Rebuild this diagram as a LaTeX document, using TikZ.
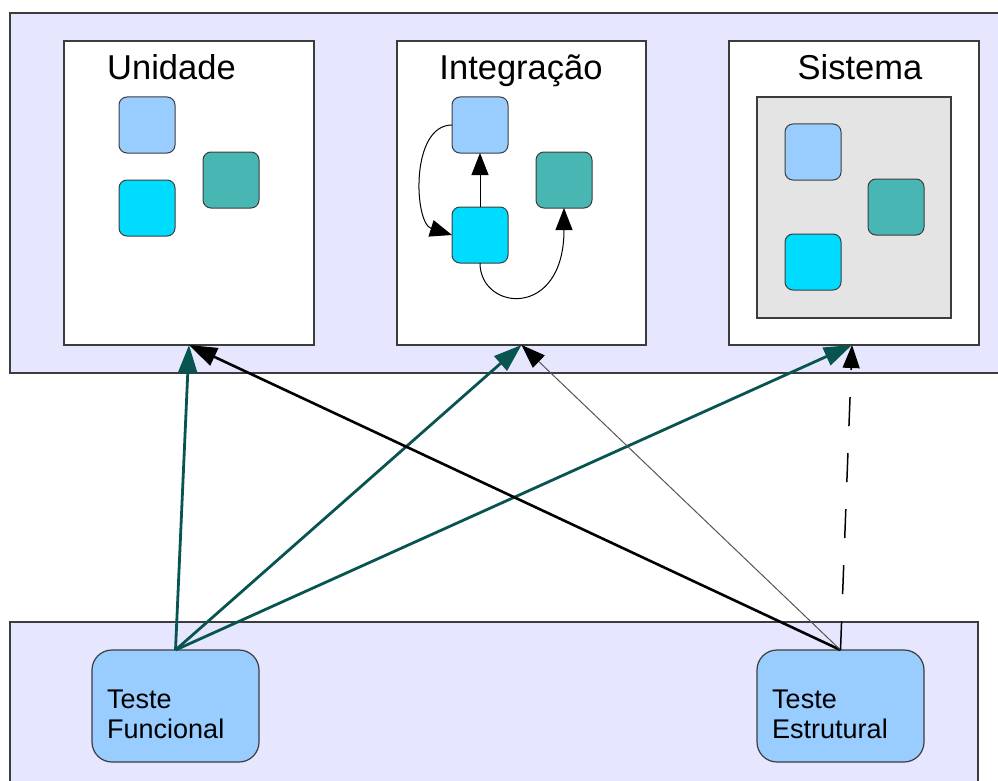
\documentclass[tikz,border=0pt]{standalone}
\usepackage{fontspec}
\setmainfont{Liberation Sans}
\usetikzlibrary{arrows.meta}

\definecolor{lav}{HTML}{E6E6FF}
\definecolor{edge}{HTML}{3C3C3C}
\definecolor{panelgray}{HTML}{E4E4E4}
\definecolor{lightblue}{HTML}{99CCFF}
\definecolor{aqua}{HTML}{00DCFF}
\definecolor{seagreen}{HTML}{48B7B4}
\definecolor{darkteal}{RGB}{8,84,80}
\definecolor{thingray}{HTML}{555555}

\begin{document}
\begin{tikzpicture}[x=1pt,y=-1pt,
  frame/.style={draw=edge, line width=1.4pt, inner sep=0pt, outer sep=0pt, anchor=north west},
  level/.style={frame, fill=white, minimum width=250pt, minimum height=304pt},
  blk/.style={draw=edge, line width=1pt, rounded corners=8pt, minimum width=56pt,
    minimum height=56pt, inner sep=0pt, outer sep=0pt, anchor=north west},
  bluebox/.style={blk, fill=lightblue},
  aquabox/.style={blk, fill=aqua},
  greenbox/.style={blk, fill=seagreen},
  testbox/.style={draw=edge, line width=1.2pt, fill=lightblue, rounded corners=20pt,
    minimum width=167pt, minimum height=112pt, inner sep=0pt, outer sep=0pt, anchor=north west},
  title/.style={inner sep=0pt, anchor=base, font=\fontsize{34.5}{40}\selectfont},
  label/.style={inner sep=0pt, anchor=base west, font=\fontsize{27}{30}\selectfont},
  tealarrow/.style={draw=darkteal, line width=2.8pt, -{Triangle[length=28pt,width=19pt]}},
  blackarrow/.style={draw=black, line width=2.6pt, -{Triangle[length=28pt,width=19pt]}},
  thinarrow/.style={draw=thingray, line width=1pt, -{Triangle[length=24pt,width=17pt,color=black]}},
  dasharrow/.style={draw=black, line width=1.5pt, dash pattern=on 29pt off 27pt,
    -{Triangle[length=23pt,width=17pt]}},
  innerarrow/.style={draw=black, line width=1pt, -{Triangle[length=22pt,width=17pt]}}
]
\useasboundingbox (0,0) rectangle (998,781);

% background bands
\node[frame, fill=lav, minimum width=1010pt, minimum height=360pt] (topband) at (10,13) {};
\node[frame, fill=lav, minimum width=968pt, minimum height=180pt] (botband) at (10,622) {};

% the three test levels
\node[level] (unid) at (64,41) {};
\node[level, minimum width=249pt] (integ) at (397,41) {};
\node[level] (sist) at (729,41) {};

\node[title] (tunid) at (171.5,80) {Unidade};
\node[title] (tinteg) at (521,80) {Integração};
\node[title] (tsist) at (860,80) {Sistema};

% unit level: isolated components
\node[bluebox] (ub) at (119,97) {};
\node[aquabox] (ua) at (119,180) {};
\node[greenbox] (ug) at (203,152) {};

% integration level: connected components
\node[bluebox] (ib) at (452,97) {};
\node[aquabox] (ia) at (452,207) {};
\node[greenbox] (ig) at (536,152) {};
\draw[innerarrow] (ia.north) -- (ib.south);
\draw[innerarrow] (ib.west) .. controls +(-42,0) and +(-38,-12) .. (ia.west);
\draw[innerarrow] (ia.south) .. controls +(0,48) and +(0,112) .. (ig.south);

% system level: components inside the whole system
\node[frame, fill=panelgray, line width=1.2pt, minimum width=194pt, minimum height=221pt] (panel) at (757,97) {};
\node[bluebox] (sb) at (785,124) {};
\node[greenbox] (sg) at (868,179) {};
\node[aquabox] (sa) at (785,234) {};

% test techniques
\node[testbox] (tf) at (92,650) {};
\node[label] (tfA) at (107,708) {Teste};
\node[label] (tfB) at (107,738) {Funcional};
\node[testbox] (te) at (757,650) {};
\node[label] (teA) at (772,708) {Teste};
\node[label] (teB) at (772,738) {Estrutural};

% which technique applies at which level
\draw[tealarrow] (tf.north) -- (unid.south);
\draw[tealarrow] (tf.north) -- (integ.south);
\draw[tealarrow] (tf.north) -- ([xshift=-2pt]sist.south);
\draw[blackarrow] (te.north) -- (unid.south);
\draw[thinarrow] (te.north) -- (integ.south);
\draw[dasharrow] (te.north) -- ([xshift=-2pt]sist.south);
\end{tikzpicture}
\end{document}
